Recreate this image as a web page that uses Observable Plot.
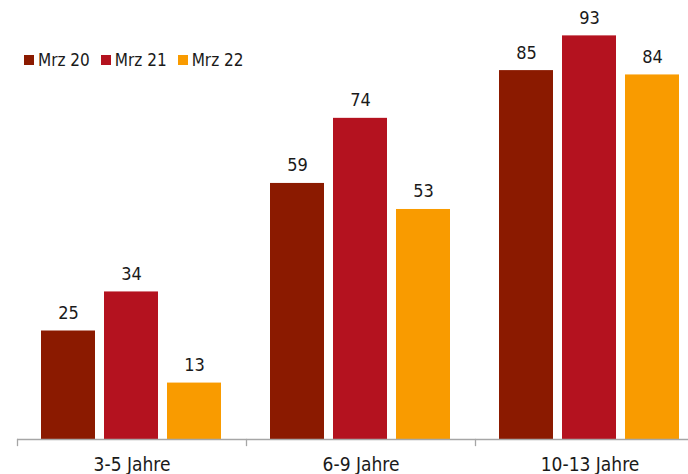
<!DOCTYPE html>
<html>
<head>
<meta charset="utf-8">
<script src="https://cdn.jsdelivr.net/npm/d3@7"></script>
<script src="https://cdn.jsdelivr.net/npm/@observablehq/plot@0.6"></script>
<style>
  html, body { margin: 0; padding: 0; background: #fff; }
  #wrap { position: relative; width: 688px; height: 474px; overflow: hidden; font-family: "DejaVu Sans Condensed", "DejaVu Sans", sans-serif; }
  #chart svg { max-width: none !important; display: block; }
  #legend { position: absolute; left: 24px; top: 50px; display: flex; gap: 11px; font-size: 17px; color: #1a1a1a; }
  #legend .item { display: flex; align-items: center; gap: 4px; }
  #legend .sw { width: 10px; height: 10px; display: inline-block; }
</style>
</head>
<body>
<div id="wrap"><div id="chart"></div><div id="legend"></div></div>
<script>
const groups = ["3-5 Jahre", "6-9 Jahre", "10-13 Jahre"];
const series = ["Mrz 20", "Mrz 21", "Mrz 22"];
const mrz20 = [25, 59, 85];
const mrz21 = [34, 74, 93];
const mrz22 = [13, 53, 84];
const colors = ["#8B1A00", "#B4121F", "#F99B00"];

const valuesBySeries = [mrz20, mrz21, mrz22];
const data = [];
groups.forEach((g, gi) => {
  series.forEach((s, si) => {
    data.push({group: g, series: s, value: valuesBySeries[si][gi]});
  });
});

const font = '"DejaVu Sans Condensed", "DejaVu Sans", sans-serif';

const chart = Plot.plot({
  width: 704,
  height: 474,
  marginLeft: 17,
  marginRight: 0,
  marginTop: 5,
  marginBottom: 35,
  style: {fontFamily: font, color: "#1a1a1a", background: "#fff", maxWidth: "none"},
  fx: {domain: groups, padding: 0, label: null},
  x: {domain: series, paddingInner: 0.14, paddingOuter: 0.36, axis: null},
  y: {domain: [0, 100], axis: null},
  color: {domain: series, range: colors},
  marks: [
    Plot.barY(data, {fx: "group", x: "series", y: "value", fill: "series"}),
    Plot.text(data, {fx: "group", x: "series", y: "value", text: d => String(d.value), dy: -12, lineAnchor: "bottom", fontSize: 18, fill: "#1a1a1a"}),
    Plot.ruleY([0], {stroke: "#a6a6a6", strokeWidth: 1.3}),
    Plot.frame({anchor: "left", stroke: "#a6a6a6", strokeWidth: 1.3, insetTop: 434, insetBottom: -6}),
    Plot.axisFx({anchor: "bottom", tickSize: 0, tickPadding: 18, fontSize: 19, label: null})
  ]
});
document.getElementById("chart").appendChild(chart);

const legend = document.getElementById("legend");
series.forEach((s, i) => {
  const item = document.createElement("div");
  item.className = "item";
  const sw = document.createElement("span");
  sw.className = "sw";
  sw.style.background = colors[i];
  const t = document.createElement("span");
  t.textContent = s;
  item.appendChild(sw);
  item.appendChild(t);
  legend.appendChild(item);
});
</script>
</body>
</html>
